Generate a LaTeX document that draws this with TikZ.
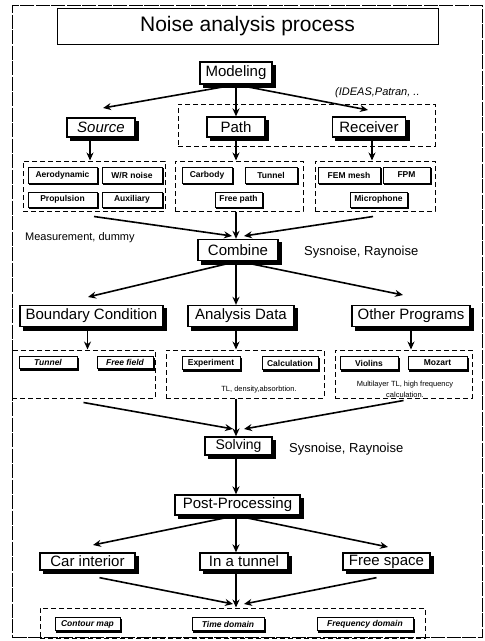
\documentclass[tikz,border=0pt]{standalone}
\usepackage{fontspec}
\setmainfont{Liberation Sans}
\usetikzlibrary{arrows.meta,backgrounds}
\begin{document}
\begin{tikzpicture}[x=1pt,y=-1pt,
  bigbox/.style={draw,line width=1.3pt,fill=white,inner sep=0pt,
    font=\fontsize{15}{15}\selectfont},
  smallbox/.style={draw,line width=1pt,fill=white,inner sep=0pt,
    font=\fontsize{8.5}{8.5}\selectfont\bfseries},
  dbox/.style={draw,dash pattern=on 5pt off 3pt,line width=1pt,inner sep=0pt},
  arr/.style={-{Stealth[length=8pt,width=7pt]},line width=1.6pt},
  note/.style={inner sep=0pt,font=\fontsize{13}{13}\selectfont},
  tiny/.style={inner sep=0pt,font=\fontsize{7.5}{7.5}\selectfont}
]
\useasboundingbox (0,0) rectangle (485,641);
\node[draw,line width=0.6pt,dash pattern=on 14pt off 1.5pt,minimum width=470pt,minimum height=632pt,inner sep=0pt] (frame) at (247.5,321.5) {};
\coordinate (col) at (236,0);

% title
\node[draw,line width=1pt,fill=white,minimum width=381pt,minimum height=36pt,inner sep=0pt,
  font=\fontsize{21}{21}\selectfont] (title) at (247.5,26) {Noise analysis process};

% modeling level
\node[bigbox,minimum width=72pt,minimum height=22pt] (Modeling) at (236,73) {Modeling};
\node[inner sep=0pt,font=\fontsize{11}{11}\selectfont\itshape,anchor=west] (tools) at (335,93) {(IDEAS,Patran, ..};
\node[dbox,minimum width=257pt,minimum height=42pt] (PRbox) at (306.5,125) {};
\node[bigbox,minimum width=68pt,minimum height=19pt,font=\fontsize{15}{15}\selectfont\itshape] (Source) at (101,127.5) {Source};
\node[bigbox,minimum width=58pt,minimum height=20pt] (Path) at (236,127) {Path};
\node[bigbox,minimum width=73pt,minimum height=20pt] (Receiver) at (369,127) {Receiver};
\coordinate (srcTip) at (103,108);
\coordinate (rcvTip) at (368,110);
\draw[arr] (Modeling.south) -- (srcTip);
\draw[arr] (Modeling.south) -- (Path.north);
\draw[arr] (Modeling.south) -- (rcvTip);

% sub boxes
\node[dbox,minimum width=142pt,minimum height=50pt] (srcSub) at (94,186) {};
\node[smallbox,minimum width=69pt,minimum height=16pt] (Aero) at (62.5,175) {Aerodynamic};
\node[smallbox,minimum width=60pt,minimum height=16pt] (WR) at (132,175) {W/R noise};
\node[smallbox,minimum width=69pt,minimum height=15pt] (Prop) at (62.5,199.5) {Propulsion};
\node[smallbox,minimum width=60pt,minimum height=15pt] (Aux) at (132,199.5) {Auxiliary};

\node[dbox,minimum width=128pt,minimum height=50pt] (pathSub) at (239,186) {};
\node[smallbox,minimum width=50pt,minimum height=16pt] (Carbody) at (207,175) {Carbody};
\node[smallbox,minimum width=52pt,minimum height=16pt] (TunnelA) at (271,175) {Tunnel};
\node[smallbox,minimum width=47pt,minimum height=15pt] (FreePath) at (238.5,199.5) {Free path};

\node[dbox,minimum width=120pt,minimum height=50pt] (rcvSub) at (375,186) {};
\node[smallbox,minimum width=62pt,minimum height=16pt] (FEM) at (349,175) {FEM mesh};
\node[smallbox,minimum width=47pt,minimum height=16pt] (FPM) at (406.5,175) {FPM};
\node[smallbox,minimum width=57pt,minimum height=15pt] (Mic) at (378.5,199.5) {Microphone};

\draw[arr] ([xshift=-11pt]Source.south) -- ([xshift=-11pt]Source.south |- srcSub.north);
\draw[arr] (Path.south) -- (Path.south |- pathSub.north);
\draw[arr] ([xshift=3pt]Receiver.south) -- ([xshift=3pt]Receiver.south |- rcvSub.north);

% combine
\node[bigbox,minimum width=80pt,minimum height=21pt] (Combine) at (238,250) {Combine};
\node[inner sep=0pt,font=\fontsize{11}{11}\selectfont,anchor=west] (meas) at (25,238) {Measurement, dummy};
\node[note,anchor=west] (sys1) at (304,252) {Sysnoise, Raynoise};
\coordinate (cmbL) at (232,236);
\coordinate (cmbR) at (244,236);
\draw[arr] (srcSub.south) ++(0,5) -- (cmbL);
\draw[arr] (pathSub.south -| col) -- (Combine.north -| col);
\draw[arr] (rcvSub.south) ++(-2,5) -- (cmbR);

% second level
\node[bigbox,minimum width=143pt,minimum height=21pt] (BC) at (91.5,316) {Boundary Condition};
\node[bigbox,minimum width=106pt,minimum height=21pt] (AD) at (241,316) {Analysis Data};
\node[bigbox,minimum width=118pt,minimum height=21pt] (OP) at (411,316) {Other Programs};
\coordinate (bcTip) at (88,297);
\coordinate (opTip) at (403,295);
\draw[arr] (Combine.south) -- (bcTip);
\draw[arr] (Combine.south -| col) -- (AD.north -| col);
\draw[arr] (Combine.south) -- (opTip);

\node[dbox,minimum width=143pt,minimum height=48pt] (bcSub) at (83.5,374) {};
\node[smallbox,minimum width=58pt,minimum height=12pt,font=\fontsize{8.5}{8.5}\selectfont\bfseries\itshape] (TunnelB) at (48,362.5) {Tunnel};
\node[smallbox,minimum width=56pt,minimum height=12pt,font=\fontsize{8.5}{8.5}\selectfont\bfseries\itshape] (FreeField) at (125,362.5) {Free field};

\node[dbox,minimum width=158pt,minimum height=48pt] (adSub) at (245,374) {};
\node[smallbox,minimum width=58pt,minimum height=13pt] (Exp) at (211,363) {Experiment};
\node[smallbox,minimum width=56pt,minimum height=13pt] (Calc) at (290,363) {Calculation};
\node[tiny] (TL) at (259,390) {TL, density,absorbtion.};

\node[dbox,minimum width=137pt,minimum height=48pt] (opSub) at (403.5,374) {};
\node[smallbox,minimum width=58pt,minimum height=13pt] (Violins) at (369,363) {Violins};
\node[smallbox,minimum width=59pt,minimum height=13pt] (Mozart) at (437.5,363) {Mozart};
\node[tiny] (ML1) at (405,385) {Multilayer TL, high frequency};
\node[tiny] (ML2) at (405,395) {calculation.};

\draw[arr] ([xshift=-4pt]BC.south) -- ([xshift=-4pt]BC.south |- bcSub.north);
\draw[arr] (AD.south -| col) -- (adSub.north -| col);
\draw[arr] (OP.south) -- (OP.south |- opSub.north);

% solving
\node[bigbox,minimum width=67pt,minimum height=18pt,font=\fontsize{14}{14}\selectfont] (Solving) at (238.5,446) {Solving};
\node[note,anchor=west] (sys2) at (289,449) {Sysnoise, Raynoise};
\coordinate (solL) at (233,429);
\coordinate (solR) at (244,429);
\draw[arr] (bcSub.south) ++(0,4) -- (solL);
\draw[arr] (adSub.south -| col) -- (Solving.north -| col);
\draw[arr] (opSub.south) ++(0,2) -- (solR);

% post-processing
\node[bigbox,minimum width=125pt,minimum height=20pt] (PP) at (237.5,505) {Post-Processing};
\draw[arr] (Solving.south -| col) -- (PP.north -| col);

\node[bigbox,minimum width=95pt,minimum height=17pt] (CarInt) at (87.5,561.5) {Car interior};
\node[bigbox,minimum width=88pt,minimum height=17pt] (InTun) at (244,561.5) {In a tunnel};
\node[bigbox,minimum width=87pt,minimum height=17pt] (FreeSp) at (386.5,561.5) {Free space};
\coordinate (ciTip) at (93,545);
\coordinate (fsTip) at (388,547);
\draw[arr] (PP.south -| col) -- (ciTip);
\draw[arr] (PP.south -| col) -- (InTun.north -| col);
\draw[arr] (PP.south -| col) -- (fsTip);

% results
\node[dbox,minimum width=385pt,minimum height=30pt] (resBox) at (232.5,623) {};
\node[smallbox,minimum width=65pt,minimum height=13pt,font=\fontsize{8.5}{8.5}\selectfont\bfseries\itshape] (Contour) at (87.5,624) {Contour map};
\node[smallbox,minimum width=72pt,minimum height=13pt,font=\fontsize{8.5}{8.5}\selectfont\bfseries\itshape] (TimeD) at (228,624) {Time domain};
\node[smallbox,minimum width=96pt,minimum height=13pt,font=\fontsize{8.5}{8.5}\selectfont\bfseries\itshape] (FreqD) at (365,624) {Frequency domain};
\coordinate (resL) at (233,604);
\coordinate (resR) at (244,604);
\draw[arr] ([xshift=12pt]CarInt.south) ++(0,7) -- (resL);
\draw[arr] (InTun.south -| col) -- (resBox.north -| col);
\draw[arr] ([xshift=-10pt]FreeSp.south) ++(0,7) -- (resR);

% shadows behind boxes
\begin{scope}[on background layer]
  \fill[white] (0,0) rectangle (485,641);
  \foreach \n in {Modeling,Source,Path,Receiver,Combine,BC,AD,OP,Solving,PP,CarInt,InTun,FreeSp}{
    \fill ([shift={(3.5,3.5)}]\n.south west) rectangle ([shift={(3.5,3.5)}]\n.north east);
  }
  \foreach \n in {Aero,WR,Prop,Aux,Carbody,TunnelA,FreePath,FEM,FPM,Mic,TunnelB,FreeField,Exp,Calc,Violins,Mozart,Contour,TimeD,FreqD}{
    \fill ([shift={(1.5,1.5)}]\n.south west) rectangle ([shift={(1.5,1.5)}]\n.north east);
  }
\end{scope}
\end{tikzpicture}
\end{document}
